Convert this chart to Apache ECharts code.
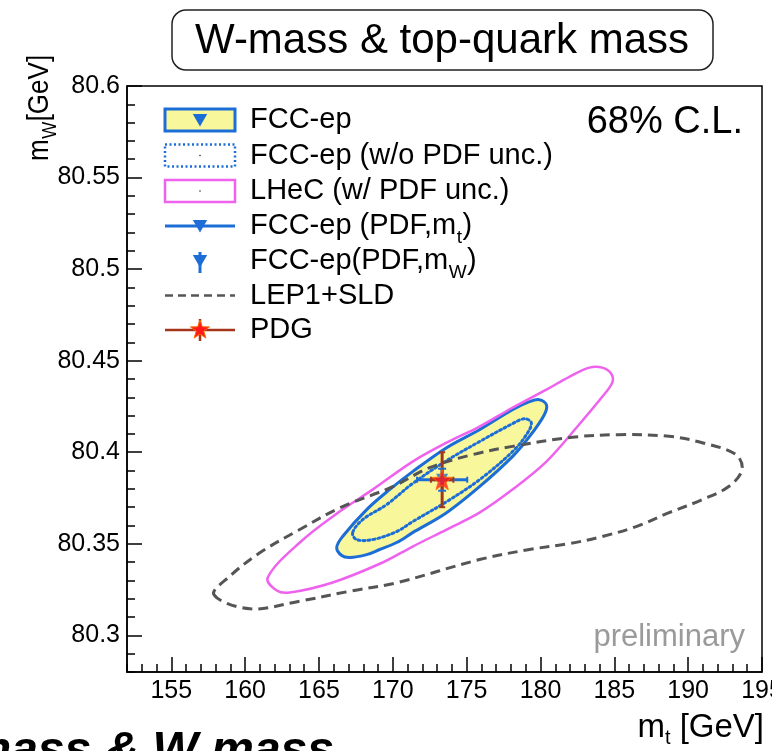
<!DOCTYPE html>
<html><head><meta charset="utf-8">
<script src="https://cdn.jsdelivr.net/npm/echarts@6/dist/echarts.min.js"></script>
<style>html,body{margin:0;padding:0;background:#fff;overflow:hidden}#c{width:772px;height:751px}</style>
</head><body><div id="c"></div>
<script>
// ---------- axis ranges & ticks ----------
const xRange = [152, 195];
const yRange = [80.28, 80.6];
const xTicks = [155, 160, 165, 170, 175, 180, 185, 190, 195];
const xTickLabels = ['155', '160', '165', '170', '175', '180', '185', '190', '195'];
const yTicks = [80.3, 80.35, 80.4, 80.45, 80.5, 80.55, 80.6];
const yTickLabels = ['80.3', '80.35', '80.4', '80.45', '80.5', '80.55', '80.6'];

// ---------- contours (m_t [GeV], m_W [GeV]) ----------
const lepMt = [157.88,160.32,163.70,167.08,170.24,175.87,179.25,181.95,184.18,186.48,188.71,190.95,192.77,193.65,193.24,190.95,188.71,185.33,182.16,178.10,175.39,172.49,169.99,166.40,163.70,160.99,158.96];
const lepMw = [80.3223,80.3145,80.3187,80.3241,80.3287,80.3414,80.3469,80.3501,80.3540,80.3594,80.3670,80.3741,80.3814,80.3905,80.3987,80.4052,80.4087,80.4096,80.4082,80.4032,80.3987,80.3916,80.3812,80.3696,80.3578,80.3451,80.3323];

const lhecMt = [161.53,162.14,163.02,165.93,169.31,171.34,173.64,175.87,178.10,180.40,182.43,184.18,184.86,184.79,184.18,183.31,181.95,180.40,178.10,175.87,173.64,171.34,168.63,166.40,163.70];
const lhecMw = [80.3316,80.3245,80.3234,80.3289,80.3398,80.3485,80.3578,80.3670,80.3796,80.3949,80.4134,80.4303,80.4380,80.4429,80.4462,80.4462,80.4412,80.4342,80.4243,80.4140,80.4052,80.3949,80.3796,80.3676,80.3507];

const fccMt = [166.20,166.54,167.08,168.23,169.11,170.26,171.34,173.64,175.87,178.10,179.25,180.26,180.40,179.92,179.25,178.10,175.87,173.64,171.34,169.78,168.23,166.60];
const fccMw = [80.3480,80.3436,80.3425,80.3441,80.3469,80.3507,80.3561,80.3670,80.3812,80.3976,80.4085,80.4205,80.4260,80.4287,80.4276,80.4232,80.4123,80.4025,80.3894,80.3796,80.3687,80.3540];

const noPdfMt = [167.28,167.55,168.63,170.26,171.34,173.64,175.87,178.10,179.05,179.38,178.91,178.10,175.87,173.64,171.34,169.58,167.96];
const noPdfMw = [80.3561,80.3523,80.3523,80.3567,80.3621,80.3730,80.3850,80.4003,80.4096,80.4161,80.4183,80.4156,80.4058,80.3954,80.3829,80.3714,80.3632];

// ---------- points with uncertainties ----------
const pdgPoint = [173.34, 80.385];
const pdgErr = [0.76, 0.015];
const fccPoint = [173.34, 80.385];
const fccMtErr = 1.7;     // FCC-ep (PDF, m_t)
const fccMwErr = 0.006;   // FCC-ep (PDF, m_W)

// ---------- legend ----------
const legendLabels = ['FCC-ep', 'FCC-ep (w/o PDF unc.)', 'LHeC (w/ PDF unc.)', 'FCC-ep (PDF,m', 'FCC-ep(PDF,m', 'LEP1+SLD', 'PDG'];
const legendSubs = ['', '', '', 't', 'W', '', ''];
const legendTails = ['', '', '', ')', ')', '', ''];

const FONT = '"Liberation Sans", Arial, sans-serif';
const BLUE = '#1c6ed6', YELLOW = '#f8f79c', PINK = '#ee62ee', GREY = '#555555', DARKRED = '#a3361a', RED = '#ff1a1a';
const STAR = 'path://M0,-100 L23.5,-32.4 L95.1,-30.9 L38,12.4 L58.8,80.9 L0,40 L-58.8,80.9 L-38,12.4 L-95.1,-30.9 L-23.5,-32.4 Z';
const STAR_PTS = [[0,-100],[23.5,-32.4],[95.1,-30.9],[38,12.4],[58.8,80.9],[0,40],[-58.8,80.9],[-38,12.4],[-95.1,-30.9],[-23.5,-32.4]];

const mctx = document.createElement('canvas').getContext('2d');
function tw(t, size, pre) { mctx.font = (pre || '') + ' ' + size + 'px ' + FONT; return mctx.measureText(t).width; }

function zip(a, b) { return a.map((v, i) => [v, b[i]]); }

function contour(name, xs, ys, style, z) {
  const pts = zip(xs, ys);
  return {
    type: 'custom', name: name, data: pts, z: z, silent: true, animation: false,
    encode: { x: 0, y: 1 },
    renderItem: function (params, api) {
      if (params.dataIndex !== 0) return;
      const p = pts.map(d => api.coord(d));
      return { type: 'polygon', shape: { points: p, smooth: 0.35 }, style: style };
    }
  };
}

function labelFmt(ticks, labels) {
  return function (v) {
    for (let i = 0; i < ticks.length; i++) if (Math.abs(v - ticks[i]) < 1e-6) return labels[i];
    return '';
  };
}

const errSeries = {
  type: 'custom', data: [0], z: 8, silent: true, animation: false,
  renderItem: function (params, api) {
    const bl = api.coord([fccPoint[0] - fccMtErr, fccPoint[1]]);
    const br = api.coord([fccPoint[0] + fccMtErr, fccPoint[1]]);
    const bt = api.coord([fccPoint[0], fccPoint[1] + fccMwErr]);
    const bb = api.coord([fccPoint[0], fccPoint[1] - fccMwErr]);
    const pl = api.coord([pdgPoint[0] - pdgErr[0], pdgPoint[1]]);
    const pr = api.coord([pdgPoint[0] + pdgErr[0], pdgPoint[1]]);
    const pt = api.coord([pdgPoint[0], pdgPoint[1] + pdgErr[1]]);
    const pb = api.coord([pdgPoint[0], pdgPoint[1] - pdgErr[1]]);
    const L = (a, b, col, w) => ({ type: 'line', shape: { x1: a[0], y1: a[1], x2: b[0], y2: b[1] }, style: { stroke: col, lineWidth: w } });
    const cap = 3;
    return { type: 'group', children: [
      L(bl, br, BLUE, 3),
      L([bl[0], bl[1] - cap], [bl[0], bl[1] + cap], BLUE, 2),
      L([br[0], br[1] - cap], [br[0], br[1] + cap], BLUE, 2),
      L(bt, bb, BLUE, 3),
      L(pl, pr, DARKRED, 3),
      L([pl[0], pl[1] - cap], [pl[0], pl[1] + cap], DARKRED, 2),
      L([pr[0], pr[1] - cap], [pr[0], pr[1] + cap], DARKRED, 2),
      L(pt, pb, DARKRED, 3),
      L([pt[0] - cap, pt[1]], [pt[0] + cap, pt[1]], DARKRED, 2),
      L([pb[0] - cap, pb[1]], [pb[0] + cap, pb[1]], DARKRED, 2),
      L([bt[0] - 4, bt[1]], [bt[0] + 4, bt[1]], BLUE, 2),
      L([bb[0] - 4, bb[1]], [bb[0] + 4, bb[1]], BLUE, 2)
    ] };
  }
};

// ---------- graphic (title box, legend, texts) ----------
const g = [];
g.push({ type: 'rect', shape: { x: 172, y: 10, width: 541, height: 60, r: 14 }, style: { fill: '#fff', stroke: '#222', lineWidth: 1.5 }, z: 100 });
g.push({ type: 'text', x: 442, y: 41, style: { text: 'W-mass & top-quark mass', font: '42px ' + FONT, fill: '#000', align: 'center', verticalAlign: 'middle' }, z: 101 });

const rows = [120, 155.5, 191, 226, 261, 295.5, 330];
const lx0 = 165, lx1 = 235, lcx = 200, tx = 250, lfs = 29;
function tri(cx, cy, s) { return { type: 'polygon', shape: { points: [[cx - s * 0.6, cy - s * 0.5], [cx + s * 0.6, cy - s * 0.5], [cx, cy + s * 0.55]] }, style: { fill: BLUE }, z: 102 }; }
g.push({ type: 'rect', shape: { x: lx0, y: rows[0] - 11, width: lx1 - lx0, height: 22 }, style: { fill: YELLOW, stroke: BLUE, lineWidth: 3 }, z: 101 });
g.push(tri(lcx, rows[0], 12));
g.push({ type: 'rect', shape: { x: lx0, y: rows[1] - 11, width: lx1 - lx0, height: 22 }, style: { fill: 'none', stroke: BLUE, lineWidth: 2.5, lineDash: [2, 2.5] }, z: 101 });
g.push({ type: 'circle', shape: { cx: lcx, cy: rows[1], r: 0.8 }, style: { fill: '#333' }, z: 101 });
g.push({ type: 'rect', shape: { x: lx0, y: rows[2] - 11, width: lx1 - lx0, height: 22 }, style: { fill: 'none', stroke: PINK, lineWidth: 2.5 }, z: 101 });
g.push({ type: 'circle', shape: { cx: lcx, cy: rows[2], r: 0.8 }, style: { fill: '#333' }, z: 101 });
g.push({ type: 'line', shape: { x1: lx0, y1: rows[3], x2: lx1, y2: rows[3] }, style: { stroke: BLUE, lineWidth: 3 }, z: 101 });
g.push(tri(lcx, rows[3], 12));
g.push({ type: 'line', shape: { x1: lcx, y1: rows[4] - 9, x2: lcx, y2: rows[4] + 12 }, style: { stroke: BLUE, lineWidth: 3 }, z: 101 });
g.push(tri(lcx, rows[4], 12));
g.push({ type: 'line', shape: { x1: lx0, y1: rows[5], x2: lx1, y2: rows[5] }, style: { stroke: GREY, lineWidth: 2.5, lineDash: [8, 5] }, z: 101 });
g.push({ type: 'line', shape: { x1: lx0, y1: rows[6], x2: lx1, y2: rows[6] }, style: { stroke: DARKRED, lineWidth: 2.5 }, z: 101 });
g.push({ type: 'line', shape: { x1: lcx, y1: rows[6] - 11, x2: lcx, y2: rows[6] + 11 }, style: { stroke: DARKRED, lineWidth: 2.5 }, z: 101 });
g.push({ type: 'polygon', shape: { points: STAR_PTS.map(p => [lcx + p[0] * 0.1, rows[6] + p[1] * 0.1]) }, style: { fill: RED, stroke: '#ff6a00', lineWidth: 1 }, z: 102 });

legendLabels.forEach((t, i) => {
  g.push({ type: 'text', x: tx, y: rows[i], style: { text: t, font: lfs + 'px ' + FONT, fill: '#000', align: 'left', verticalAlign: 'middle' }, z: 101 });
  if (legendSubs[i]) {
    const w = tw(t, lfs);
    const sw = tw(legendSubs[i], 19);
    g.push({ type: 'text', x: tx + w + 0.5, y: rows[i] + 12, style: { text: legendSubs[i], font: '19px ' + FONT, fill: '#000', align: 'left', verticalAlign: 'middle' }, z: 101 });
    g.push({ type: 'text', x: tx + w + sw + 1, y: rows[i], style: { text: legendTails[i], font: lfs + 'px ' + FONT, fill: '#000', align: 'left', verticalAlign: 'middle' }, z: 101 });
  }
});

g.push({ type: 'text', x: 743, y: 123, style: { text: '68% C.L.', font: '38px ' + FONT, fill: '#000', align: 'right', verticalAlign: 'middle' }, z: 101 });
g.push({ type: 'text', x: 745, y: 637, style: { text: 'preliminary', font: '31px ' + FONT, fill: '#9a9a9a', align: 'right', verticalAlign: 'middle' }, z: 101 });

(function () {
  const fs = 33, ss = 20;
  const wG = tw(' [GeV]', fs), wt = tw('t', ss);
  const right = 764, cy = 728;
  g.push({ type: 'text', x: right, y: cy, style: { text: ' [GeV]', font: fs + 'px ' + FONT, fill: '#000', align: 'right', verticalAlign: 'middle' }, z: 101 });
  g.push({ type: 'text', x: right - wG, y: cy + 10, style: { text: 't', font: ss + 'px ' + FONT, fill: '#000', align: 'right', verticalAlign: 'middle' }, z: 101 });
  g.push({ type: 'text', x: right - wG - wt, y: cy, style: { text: 'm', font: fs + 'px ' + FONT, fill: '#000', align: 'right', verticalAlign: 'middle' }, z: 101 });
})();

(function () {
  const fs = 26, ss = 18;
  const wm = tw('m', fs), wW = tw('W', ss);
  g.push({ type: 'group', x: 40, y: 161, rotation: Math.PI / 2, scaleY: 1.15, z: 101, children: [
    { type: 'text', x: 0, y: 0, style: { text: 'm', font: fs + 'px ' + FONT, fill: '#000', align: 'left', verticalAlign: 'middle' } },
    { type: 'text', x: wm + 0.5, y: 9, style: { text: 'W', font: ss + 'px ' + FONT, fill: '#000', align: 'left', verticalAlign: 'middle' } },
    { type: 'text', x: wm + wW + 1, y: 0, style: { text: '[GeV]', font: fs + 'px ' + FONT, fill: '#000', align: 'left', verticalAlign: 'middle' } }
  ] });
})();

g.push({ type: 'text', x: 334, y: 752, style: { text: 'Top mass & W mass', font: 'italic bold 48px ' + FONT, fill: '#000', align: 'right', verticalAlign: 'middle' }, z: 101 });

const axisLineStyle = { color: '#000', width: 1.5 };
const option = {
  animation: false,
  backgroundColor: '#fff',
  grid: { left: 127, top: 86, right: 10, bottom: 79, show: true, borderColor: '#000', borderWidth: 1.5, backgroundColor: 'transparent', containLabel: false, outerBoundsMode: 'none' },
  xAxis: [
    { type: 'value', min: xRange[0], max: xRange[1], position: 'bottom', splitNumber: 9,
      axisLine: { show: true, lineStyle: axisLineStyle },
      axisTick: { show: true, inside: true, length: 15, lineStyle: axisLineStyle, customValues: xTicks },
      axisLabel: { show: true, customValues: xTicks, formatter: labelFmt(xTicks, xTickLabels), fontSize: 25, fontFamily: FONT, color: '#000', margin: 7, showMinLabel: true, showMaxLabel: true, hideOverlap: false },
      splitLine: { show: false } },
    { type: 'value', min: xRange[0], max: xRange[1], interval: 1, position: 'bottom', offset: 0,
      axisLine: { show: false }, axisTick: { show: true, inside: true, length: 8, lineStyle: axisLineStyle },
      axisLabel: { show: false }, splitLine: { show: false } }
  ],
  yAxis: [
    { type: 'value', min: yRange[0], max: yRange[1], position: 'left', splitNumber: 6,
      axisLine: { show: true, lineStyle: axisLineStyle },
      axisTick: { show: true, inside: true, length: 15, lineStyle: axisLineStyle, customValues: yTicks },
      axisLabel: { show: true, customValues: yTicks, formatter: labelFmt(yTicks, yTickLabels), fontSize: 25, fontFamily: FONT, color: '#000', margin: 7, showMinLabel: true, showMaxLabel: true },
      splitLine: { show: false } },
    { type: 'value', min: yRange[0], max: yRange[1], interval: 0.01, position: 'left', offset: 0,
      axisLine: { show: false }, axisTick: { show: true, inside: true, length: 8, lineStyle: axisLineStyle },
      axisLabel: { show: false }, splitLine: { show: false } }
  ],
  graphic: g,
  series: [
    contour('FCC-ep fill', fccMt, fccMw, { fill: YELLOW, stroke: 'none' }, 2),
    contour('FCC-ep (w/o PDF unc.)', noPdfMt, noPdfMw, { fill: 'none', stroke: BLUE, lineWidth: 3, lineDash: [2, 3], lineCap: 'round' }, 3),
    contour('FCC-ep', fccMt, fccMw, { fill: 'none', stroke: BLUE, lineWidth: 3 }, 4),
    contour('LHeC (w/ PDF unc.)', lhecMt, lhecMw, { fill: 'none', stroke: PINK, lineWidth: 2.5 }, 4),
    contour('LEP1+SLD', lepMt, lepMw, { fill: 'none', stroke: GREY, lineWidth: 3, lineDash: [10, 6] }, 5),
    errSeries,
    { type: 'scatter', name: 'FCC-ep point', data: [fccPoint], symbol: 'triangle', symbolRotate: 180, symbolSize: 12, itemStyle: { color: BLUE }, z: 9, silent: true },
    { type: 'scatter', name: 'PDG', data: [pdgPoint], symbol: STAR, symbolSize: 20, itemStyle: { color: RED, borderColor: '#ff6a00', borderWidth: 1 }, z: 10, silent: true }
  ]
};
const chart = echarts.init(document.getElementById('c'), null, { renderer: 'canvas' });
chart.setOption(option);
</script>
</body></html>
